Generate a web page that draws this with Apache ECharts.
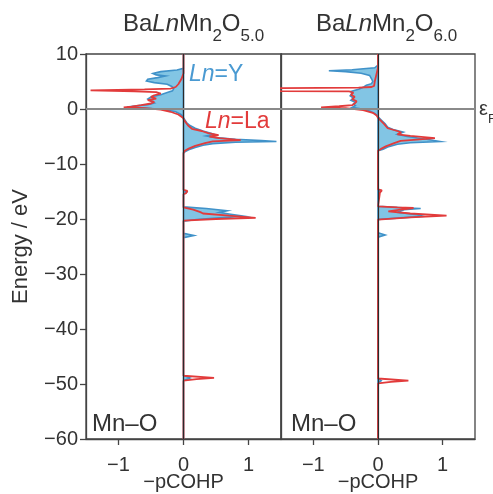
<!DOCTYPE html>
<html><head><meta charset="utf-8">
<script src="https://cdn.jsdelivr.net/npm/echarts@6/dist/echarts.min.js"></script>
<style>html,body{margin:0;padding:0;background:#fff}#c{width:493px;height:494px}</style>
</head><body><div id="c"></div>
<script>
// ---- data: [energy (eV), -pCOHP] ----
const xTicks = [-1, 0, 1];
const cohpY50 = [[10,0],[7.4,0],[7.1,-0.1],[6.8,-0.35],[6.45,-0.47],[6.2,-0.42],[6.0,-0.28],[5.7,-0.4],[5.4,-0.55],[5.1,-0.57],
  [4.8,-0.45],[4.5,-0.25],[4.1,-0.18],[3.7,-0.15],[3.3,-0.17],[3.0,-0.25],[2.6,-0.35],[2.2,-0.5],[1.8,-0.55],[1.4,-0.5],
  [1.1,-0.45],[0.8,-0.55],[0.55,-0.75],[0.35,-0.87],[0.15,-0.55],[-0.1,-0.3],[-0.5,-0.12],[-1.0,-0.04],[-1.5,0],[-2.0,0.02],
  [-2.5,0.05],[-3.0,0.1],[-3.5,0.18],[-4.0,0.3],[-4.4,0.42],[-4.6,0.47],[-4.9,0.35],[-5.2,0.5],[-5.5,0.8],[-5.75,1.2],
  [-5.9,1.43],[-6.05,0.8],[-6.3,0.45],[-6.6,0.3],[-7.0,0.18],[-7.4,0.08],[-7.8,0.02],[-8.1,0],[-14.7,0],[-15.1,0.05],
  [-15.5,0],[-17.8,0],[-18.1,0.35],[-18.5,0.67],[-18.8,0.55],[-19.1,0.7],[-19.5,0.93],[-19.8,0.55],[-20.1,0.2],[-20.4,0],
  [-22.6,0],[-23.0,0.16],[-23.4,0],[-48.4,0],[-48.9,0.1],[-49.4,0],[-60,0]];
const cohpLa50 = [[10,0],[6.5,0],[5.5,-0.03],[4.5,-0.08],[4.0,-0.12],[3.7,-0.2],[3.58,-0.6],[3.4,-1.43],[3.22,-0.75],[3.05,-0.42],
  [2.8,-0.35],[2.5,-0.45],[2.2,-0.5],[1.9,-0.42],[1.6,-0.55],[1.3,-0.45],[1.0,-0.5],[0.7,-0.65],[0.45,-0.8],[0.3,-0.92],
  [0.15,-0.6],[-0.1,-0.35],[-0.5,-0.2],[-1.0,-0.08],[-1.6,-0.01],[-2.2,0.02],[-3.0,0.07],[-3.6,0.13],[-4.0,0.28],[-4.4,0.38],
  [-4.75,0.54],[-5.0,0.4],[-5.3,0.55],[-5.65,0.88],[-5.9,0.45],[-6.2,0.33],[-6.7,0.18],[-7.2,0.08],[-7.6,0.02],[-8.0,0],
  [-12.3,0],[-12.6,-0.02],[-12.9,0],[-14.7,0],[-14.9,0.06],[-15.1,0.08],[-15.3,0.04],[-15.5,0],[-17.9,0],[-18.3,0.15],
  [-18.75,0.26],[-19.0,0.3],[-19.4,0.7],[-19.8,1.11],[-20.0,0.5],[-20.3,0],[-27.2,0],[-27.5,0.02],[-27.8,0],[-48.5,0],
  [-48.9,0.47],[-49.1,0.2],[-49.4,0],[-60,0]];
const cohpY60 = [[10,0],[8.0,0],[7.5,-0.05],[7.15,-0.4],[6.95,-0.76],[6.8,-0.5],[6.5,-0.26],[6.1,-0.13],[5.5,-0.1],[5.0,-0.08],
  [4.6,-0.1],[4.3,-0.18],[4.0,-0.22],[3.6,-0.3],[3.2,-0.42],[2.8,-0.4],[2.4,-0.43],[2.0,-0.38],[1.6,-0.42],[1.2,-0.35],
  [0.9,-0.38],[0.6,-0.35],[0.3,-0.4],[0.0,-0.25],[-0.4,-0.12],[-0.9,-0.04],[-1.4,0],[-2.0,0.05],[-2.7,0.11],[-3.3,0.15],
  [-3.8,0.25],[-4.2,0.39],[-4.6,0.3],[-5.0,0.45],[-5.5,0.75],[-5.9,0.96],[-6.15,0.5],[-6.4,0.3],[-6.9,0.15],[-7.3,0.08],
  [-7.6,0],[-14.7,0],[-15.0,0.04],[-15.3,0],[-17.7,0],[-18.0,0.45],[-18.1,0.66],[-18.3,0.4],[-18.8,0.3],[-19.2,0.6],
  [-19.5,0.7],[-19.8,0.35],[-20.1,0],[-22.5,0],[-22.9,0.11],[-23.3,0],[-48.9,0],[-49.4,0.05],[-49.8,0],[-60,0]];
const cohpLa60 = [[10,0],[7.5,0],[6.0,-0.03],[5.0,-0.05],[4.2,-0.06],[4.0,-0.1],[3.88,-0.3],[3.8,-1.5],[3.55,-2.2],[3.25,-1.5],
  [3.2,-0.45],[3.0,-0.38],[2.6,-0.42],[2.2,-0.36],[1.8,-0.4],[1.4,-0.33],[1.0,-0.36],[0.7,-0.4],[0.5,-0.6],[0.3,-0.88],
  [0.15,-0.5],[-0.2,-0.23],[-0.7,-0.08],[-1.2,-0.02],[-1.6,0],[-2.2,0.05],[-2.8,0.1],[-3.5,0.15],[-4.0,0.3],[-4.3,0.36],
  [-4.6,0.3],[-4.9,0.5],[-5.3,0.88],[-5.55,0.6],[-5.8,0.35],[-6.2,0.25],[-6.8,0.12],[-7.3,0.04],[-7.6,0],[-11.5,0],
  [-11.8,-0.02],[-12.1,0],[-14.6,0],[-14.8,0.06],[-15.0,0.08],[-15.2,0.03],[-15.4,0],[-17.7,0],[-17.9,0.3],[-18.0,0.55],
  [-18.3,0.35],[-18.6,0.16],[-19.0,0.5],[-19.4,1.06],[-19.7,0.5],[-20.1,0],[-26.4,0],[-26.7,0.02],[-27.0,0],[-49.0,0],
  [-49.4,0.47],[-49.6,0.2],[-49.9,0],[-60,0]];
const panelOxygen = ['5.0', '6.0'];

// ---- styling ----
const FONT = '"Liberation Sans", Arial, Helvetica, sans-serif';
const TXT = '#333333';
const AX = '#444444';
const RED = '#e23b3b';
const BLUE_LINE = '#4092c9';
const BLUE_FILL = '#82c5e4';

const mctx = document.createElement('canvas').getContext('2d');
function tw(t, size, italic) { mctx.font = (italic ? 'italic ' : '') + size + 'px ' + FONT; return mctx.measureText(t).width; }
function textEl(t, x, baseline, size, color, italic) {
  return { type: 'text', x: x, y: baseline - 0.36 * size, z: 100,
    style: { text: t, font: (italic ? 'italic ' : '') + size + 'px ' + FONT, fill: color, align: 'left', verticalAlign: 'middle' } };
}
function runs(parts, x0, baseline, color) {
  const els = []; let x = x0;
  parts.forEach(p => { const [t, size, italic, dy] = p; els.push(textEl(t, x, baseline + (dy || 0), size, color, italic)); x += tw(t, size, italic); });
  return els;
}
function titleParts(ox) { return [['Ba',24],['Ln',24,true],['Mn',24],['2',17,false,9],['O',24],[ox,17,false,9]]; }

const graphics = [].concat(
  runs(titleParts(panelOxygen[0]), 123, 33, TXT),
  runs(titleParts(panelOxygen[1]), 316, 33, TXT),
  runs([['Ln',23,true],['=Y',23]], 189, 83, '#4a9ad2'),
  runs([['Ln',23,true],['=La',23]], 205, 130, RED),
  runs([['Mn–O',24]], 92, 433, TXT),
  runs([['Mn–O',24]], 291, 433, TXT),
  runs([['ε',20],['F',13,false,7]], 479, 117, TXT)
);

const minusFmt = v => (v < 0 ? '−' : '') + Math.abs(v);

function fillSeries(pairs, idx) {
  return { type: 'custom', coordinateSystem: 'cartesian2d', xAxisIndex: idx, yAxisIndex: idx, clip: true, z: 2,
    data: [[0, 0]], silent: true,
    renderItem: function (params, api) {
      const pts = pairs.map(p => api.coord([p[1], p[0]]));
      return { type: 'polygon', shape: { points: pts }, style: { fill: BLUE_FILL, stroke: BLUE_LINE, lineWidth: 1.6 } };
    } };
}
function lineSeries(pairs, idx) {
  return { type: 'line', xAxisIndex: idx, yAxisIndex: idx, data: pairs.map(p => [p[1], p[0]]), symbol: 'none', showSymbol: false,
    clip: true, z: 3, silent: true, lineStyle: { color: RED, width: 1.8 } };
}
function refSeries(idx) {
  return { type: 'line', xAxisIndex: idx, yAxisIndex: idx, data: [[0, 0]], symbol: 'none', z: 5, silent: true,
    lineStyle: { width: 0 },
    markLine: { silent: true, symbol: 'none', animation: false, label: { show: false },
      data: [ { xAxis: 0, lineStyle: { color: '#2a2a2a', width: 1.2, type: 'solid' } },
              { yAxis: 0, lineStyle: { color: '#8a8a8a', width: 2, type: 'solid' } } ] } };
}
function xAxis(idx) {
  return { gridIndex: idx, type: 'value', min: -1.5, max: 1.5,
    axisLine: { show: true, onZero: false, lineStyle: { color: AX, width: 1.3 } },
    axisTick: { show: true, inside: false, length: 6, customValues: xTicks, lineStyle: { color: AX, width: 1.3 } },
    axisLabel: { customValues: xTicks, formatter: minusFmt, fontSize: 20, color: TXT, margin: 16, fontFamily: FONT },
    splitLine: { show: false },
    name: '−pCOHP', nameLocation: 'middle', nameGap: 33, nameMoveOverlap: false,
    nameTextStyle: { fontSize: 20, color: TXT, fontFamily: FONT } };
}

const option = {
  animation: false,
  backgroundColor: '#ffffff',
  grid: [
    { left: 86, top: 54, width: 195, height: 385, show: true, borderColor: AX, borderWidth: 1.3, backgroundColor: 'transparent', containLabel: false, outerBoundsMode: 'none' },
    { left: 281, top: 54, width: 194, height: 385, show: true, borderColor: AX, borderWidth: 1.3, backgroundColor: 'transparent', containLabel: false, outerBoundsMode: 'none' }
  ],
  xAxis: [xAxis(0), xAxis(1)],
  yAxis: [
    { gridIndex: 0, type: 'value', min: -60, max: 10, interval: 10,
      axisLine: { show: true, onZero: false, lineStyle: { color: AX, width: 1.3 } },
      axisTick: { show: true, inside: false, length: 6, lineStyle: { color: AX, width: 1.3 } },
      axisLabel: { formatter: minusFmt, fontSize: 20, color: TXT, margin: 8, fontFamily: FONT },
      splitLine: { show: false },
      name: 'Energy / eV', nameLocation: 'middle', nameGap: 54, nameMoveOverlap: false,
      nameTextStyle: { fontSize: 22, color: TXT, fontFamily: FONT } },
    { gridIndex: 1, type: 'value', min: -60, max: 10, interval: 10,
      axisLine: { show: true, onZero: false, lineStyle: { color: AX, width: 1.3 } },
      axisTick: { show: false }, axisLabel: { show: false }, splitLine: { show: false } }
  ],
  series: [
    fillSeries(cohpY50, 0), fillSeries(cohpY60, 1),
    lineSeries(cohpLa50, 0), lineSeries(cohpLa60, 1),
    refSeries(0), refSeries(1)
  ],
  graphic: graphics
};
const chart = echarts.init(document.getElementById('c'), null, { renderer: 'canvas' });
chart.setOption(option);
</script>
</body></html>
